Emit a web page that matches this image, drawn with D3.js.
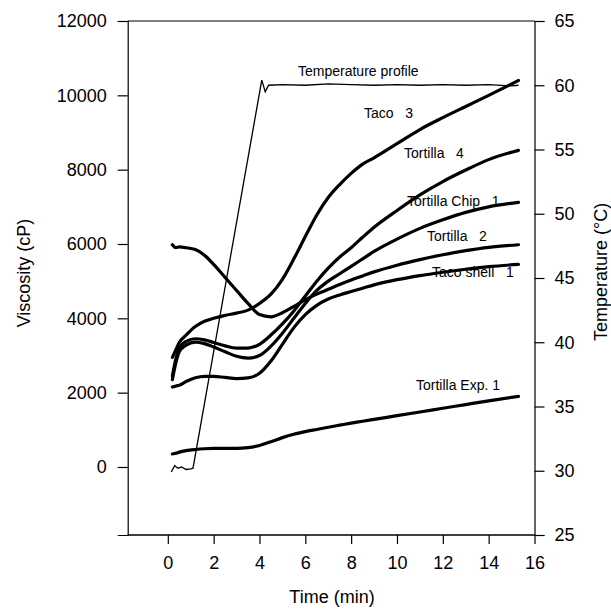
<!DOCTYPE html>
<html><head><meta charset="utf-8">
<script src="https://cdn.jsdelivr.net/npm/d3@7"></script>
<style>body{margin:0;background:#fff}svg{display:block}text{font-family:"Liberation Sans",Arial,sans-serif;fill:#000}</style>
</head><body>
<svg id="chart" width="611" height="611"></svg>
<script>
// ---- data ----
const viscTime = [0.2,0.35,0.5,0.8,1.2,1.6,2.0,2.5,3.0,3.5,4.0,4.5,5.0,5.5,6.0,6.5,7.0,7.5,8.0,8.5,9.0,10,11,12,13,14,15.3];
const taco3 = [2950,3150,3350,3550,3780,3920,4000,4080,4140,4220,4400,4650,5050,5600,6200,6780,7250,7600,7900,8150,8320,8700,9080,9400,9700,10000,10400];
const tortilla4 = [2450,2900,3200,3380,3450,3420,3350,3260,3200,3200,3300,3550,3850,4200,4600,5000,5350,5650,5900,6180,6450,6900,7320,7680,7990,8270,8520];
const tortillaChip1 = [2350,2800,3100,3280,3360,3320,3230,3100,2980,2930,3000,3250,3600,4000,4400,4750,5000,5200,5400,5600,5800,6130,6420,6650,6850,7000,7120];
const tortilla2 = [5980,5900,5920,5900,5850,5700,5450,5100,4750,4400,4100,4040,4150,4320,4500,4650,4780,4910,5030,5140,5250,5430,5580,5710,5820,5910,5980];
const tacoShell1 = [2150,2180,2200,2300,2400,2440,2440,2410,2380,2400,2520,2850,3300,3750,4100,4350,4520,4630,4720,4810,4900,5040,5150,5240,5320,5390,5450];
const tortillaExp1 = [350,370,400,440,470,490,500,500,500,520,580,680,790,880,950,1010,1070,1125,1180,1230,1280,1380,1480,1580,1680,1780,1900];
const tempTime = [0.15,0.3,0.45,0.6,0.8,1.0,1.1,4.1,4.2,4.25,4.4,5,6,7,8,9,10,11,12,13,14,15,15.3];
const tempProfile = [29.9,30.4,30.2,30.3,30.1,30.15,30.2,60.4,59.8,59.5,60.0,60.05,60.0,60.1,60.05,60.0,60.05,60.0,60.05,60.0,60.05,59.95,60.0];
const seriesNames = ["Taco   3","Tortilla   4","Tortilla Chip   1","Tortilla   2","Taco shell   1","Tortilla Exp. 1"];
const xTicks = [0,2,4,6,8,10,12,14,16];
const yTicks = [0,2000,4000,6000,8000,10000,12000];
const tTicks = [25,30,35,40,45,50,55,60,65];

// ---- layout ----
const svg = d3.select("#chart");
const L = 127.7, R = 534.5, T = 21, B = 535;
const x = d3.scaleLinear().domain([-1.75, 16]).range([L, R]);
const y = d3.scaleLinear().domain([-1830, 12000]).range([B, T]);
const yT = d3.scaleLinear().domain([25, 65]).range([B, T]);

// frame
svg.append("line").attr("x1",L).attr("x2",R).attr("y1",T).attr("y2",T).attr("stroke","#000").attr("stroke-width",1.2);
svg.append("line").attr("x1",L).attr("x2",R).attr("y1",B).attr("y2",B).attr("stroke","#000").attr("stroke-width",1.2);

const axL = d3.axisLeft(y).tickValues(yTicks).tickSize(10).tickPadding(11).tickFormat(d3.format("d"));
const gL = svg.append("g").attr("transform",`translate(${L},0)`).call(axL);
const axR = d3.axisRight(yT).tickValues(tTicks).tickSize(10).tickPadding(10).tickFormat(d3.format("d"));
const gR = svg.append("g").attr("transform",`translate(${R},0)`).call(axR);
const axB = d3.axisBottom(x).tickValues(xTicks).tickSize(9).tickPadding(12).tickFormat(d3.format("d"));
const gB = svg.append("g").attr("transform",`translate(0,${B})`).call(axB);
[gL,gR,gB].forEach(g=>{
  g.select(".domain").attr("stroke","#000").attr("stroke-width",1.2);
  g.selectAll(".tick line").attr("stroke","#000").attr("stroke-width",1.2);
  g.selectAll(".tick text").attr("font-size",18).attr("font-family",'"Liberation Sans",Arial,sans-serif').attr("fill","#000");
});
gB.select(".domain").attr("d",`M${L},0H${R}`);

// titles
svg.append("text").attr("x",332).attr("y",603).attr("text-anchor","middle").attr("font-size",18).text("Time (min)");
svg.append("text").attr("transform","translate(30,273) rotate(-90)").attr("text-anchor","middle").attr("font-size",18).text("Viscosity (cP)");
svg.append("text").attr("transform","translate(607,272) rotate(-90)").attr("text-anchor","middle").attr("font-size",18).text("Temperature (°C)");

// lines
const vLine = d3.line().x((d,i)=>x(viscTime[i])).y(d=>y(d)).curve(d3.curveMonotoneX);
const allSeries = [taco3,tortilla4,tortillaChip1,tortilla2,tacoShell1,tortillaExp1];
svg.append("g").selectAll("path").data(allSeries).join("path")
  .attr("d",d=>vLine(d)).attr("fill","none").attr("stroke","#000").attr("stroke-width",3.2).attr("stroke-linejoin","round").attr("stroke-linecap","round");
const tLine = d3.line().x((d,i)=>x(tempTime[i])).y(d=>yT(d));
svg.append("path").attr("d",tLine(tempProfile)).attr("fill","none").attr("stroke","#000").attr("stroke-width",1.3);

// labels
const labelPos = [[364,118],[404,158],[407,206],[427,241],[432,277],[416,390]];
svg.append("g").selectAll("text").data(seriesNames).join("text")
  .attr("x",(d,i)=>labelPos[i][0]).attr("y",(d,i)=>labelPos[i][1])
  .attr("font-size",14).style("white-space","pre").text(d=>d);
svg.append("text").attr("x",298).attr("y",76).attr("font-size",14).text("Temperature profile");
</script>
</body></html>
